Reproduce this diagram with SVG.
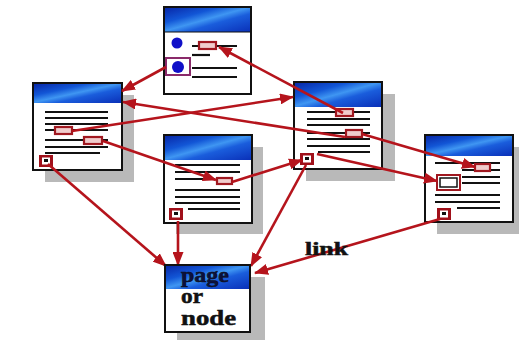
<svg xmlns="http://www.w3.org/2000/svg" width="519" height="340" viewBox="0 0 519 340">
  <defs>
    <linearGradient id="hdr" x1="0" y1="0" x2="1" y2="1">
      <stop offset="0" stop-color="#0828a8"/>
      <stop offset="0.3" stop-color="#1256d6"/>
      <stop offset="0.48" stop-color="#3f96f2"/>
      <stop offset="0.62" stop-color="#1a5ddc"/>
      <stop offset="1" stop-color="#0a30b8"/>
    </linearGradient>
    <marker id="arr" viewBox="0 0 14 11" refX="13" refY="5.5" markerWidth="14" markerHeight="11" markerUnits="userSpaceOnUse" orient="auto">
      <path d="M0,0 L14,5.5 L0,11 z" fill="#b5141c"/>
    </marker>
    <g id="icon">
      <rect x="0" y="0" width="14" height="12" fill="#a0101a"/>
      <rect x="3" y="2.5" width="8" height="7" fill="#fff"/>
      <path d="M5,4 h4 v3 h-4 z" fill="#111"/>
    </g>
  </defs>
  <style>
    .card{fill:#fff;stroke:#111;stroke-width:2}
    .shadow{fill:#b9b9b9}
    .hdr{fill:url(#hdr)}
    .ln{stroke:#111;stroke-width:2.2}
    .lk{fill:#f0cccc;stroke:#a01820;stroke-width:2.2}
    .con{stroke:#b5141c;stroke-width:2.6;fill:none;marker-end:url(#arr)}
    .lbl{font-family:"Liberation Serif","Times New Roman",serif;font-weight:bold;fill:#111;stroke:#111;stroke-width:0.5}
  </style>

  <rect width="519" height="340" fill="#fff"/>

  <!-- top page -->
  <g id="pageA">
    <rect class="card" x="164" y="7" width="87" height="87"/>
    <rect class="hdr" x="165" y="8" width="85" height="24"/>
    <line x1="164" y1="32" x2="251" y2="32" stroke="#111" stroke-width="1"/>
    <circle cx="177" cy="43" r="5.5" fill="#1010c8"/>
    <line class="ln" x1="192" y1="46" x2="237" y2="46"/>
    <rect class="lk" x="199" y="42" width="17" height="7"/>
    <line class="ln" x1="192" y1="55" x2="210" y2="55"/>
    <rect x="166" y="58" width="24" height="17" fill="none" stroke="#8a2a6a" stroke-width="2"/>
    <circle cx="178" cy="67" r="6" fill="#1010c8"/>
    <line class="ln" x1="192" y1="68" x2="237" y2="68"/>
    <line class="ln" x1="192" y1="77" x2="237" y2="77"/>
  </g>

  <!-- left page -->
  <g id="pageB">
    <rect class="shadow" x="45" y="95" width="89" height="87"/>
    <rect class="card" x="33" y="83" width="89" height="87"/>
    <rect class="hdr" x="34" y="84" width="87" height="19"/>
    <line class="ln" x1="45" y1="112" x2="108" y2="112"/>
    <line class="ln" x1="45" y1="118" x2="108" y2="118"/>
    <line class="ln" x1="45" y1="124" x2="108" y2="124"/>
    <line class="ln" x1="45" y1="130" x2="108" y2="130"/>
    <line class="ln" x1="45" y1="140" x2="108" y2="140"/>
    <line class="ln" x1="45" y1="147" x2="108" y2="147"/>
    <line class="ln" x1="45" y1="153" x2="100" y2="153"/>
    <rect class="lk" x="55" y="127" width="17" height="7"/>
    <rect class="lk" x="84" y="137" width="18" height="7"/>
    <use href="#icon" x="39" y="155"/>
  </g>

  <!-- right-hand middle page -->
  <g id="pageC">
    <rect class="shadow" x="306" y="94" width="89" height="87"/>
    <rect class="card" x="294" y="82" width="88" height="87"/>
    <rect class="hdr" x="295" y="83" width="86" height="24"/>
    <line class="ln" x1="307" y1="112" x2="370" y2="112"/>
    <line class="ln" x1="307" y1="119" x2="370" y2="119"/>
    <line class="ln" x1="307" y1="125" x2="370" y2="125"/>
    <line class="ln" x1="307" y1="133" x2="370" y2="133"/>
    <line class="ln" x1="307" y1="139" x2="370" y2="139"/>
    <line class="ln" x1="307" y1="146" x2="370" y2="146"/>
    <line class="ln" x1="318" y1="152" x2="370" y2="152"/>
    <rect class="lk" x="336" y="109" width="17" height="7"/>
    <rect class="lk" x="346" y="130" width="16" height="7"/>
    <use href="#icon" x="300" y="153"/>
  </g>

  <!-- far right page -->
  <g id="pageD">
    <rect class="shadow" x="437" y="147" width="88" height="87"/>
    <rect class="card" x="425" y="135" width="88" height="87"/>
    <rect class="hdr" x="426" y="136" width="86" height="20"/>
    <line class="ln" x1="435" y1="163" x2="500" y2="163"/>
    <line class="ln" x1="462" y1="170" x2="500" y2="170"/>
    <line class="ln" x1="462" y1="177" x2="500" y2="177"/>
    <line class="ln" x1="462" y1="183" x2="500" y2="183"/>
    <line class="ln" x1="435" y1="195" x2="500" y2="195"/>
    <line class="ln" x1="435" y1="202" x2="500" y2="202"/>
    <line class="ln" x1="457" y1="208" x2="500" y2="208"/>
    <rect class="lk" x="475" y="164" width="15" height="7"/>
    <rect x="437" y="175" width="23" height="15" fill="#fff" stroke="#a01820" stroke-width="2"/>
    <rect x="440" y="178" width="17" height="9" fill="none" stroke="#111" stroke-width="1.5"/>
    <use href="#icon" x="437" y="208"/>
  </g>

  <!-- centre page -->
  <g id="pageE">
    <rect class="shadow" x="176" y="147" width="87" height="87"/>
    <rect class="card" x="164" y="135" width="88" height="88"/>
    <rect class="hdr" x="165" y="136" width="86" height="24"/>
    <line class="ln" x1="175" y1="165" x2="240" y2="165"/>
    <line class="ln" x1="175" y1="172" x2="240" y2="172"/>
    <line class="ln" x1="175" y1="179" x2="215" y2="179"/>
    <line class="ln" x1="175" y1="190" x2="240" y2="190"/>
    <line class="ln" x1="175" y1="197" x2="240" y2="197"/>
    <line class="ln" x1="175" y1="203" x2="240" y2="203"/>
    <line class="ln" x1="188" y1="209" x2="240" y2="209"/>
    <rect class="lk" x="217" y="178" width="15" height="6"/>
    <use href="#icon" x="169" y="208"/>
  </g>

  <!-- links between pages -->
  <g id="connectors">
    <line class="con" x1="343" y1="113" x2="219" y2="47"/>
    <line class="con" x1="166" y1="67" x2="122" y2="91"/>
    <line class="con" x1="345" y1="137" x2="123" y2="102"/>
    <line class="con" x1="72" y1="131" x2="293" y2="97"/>
    <line class="con" x1="103" y1="141" x2="216" y2="180"/>
    <line class="con" x1="232" y1="182" x2="302" y2="160"/>
    <line class="con" x1="362" y1="134" x2="475" y2="167"/>
    <line class="con" x1="317" y1="154" x2="437" y2="181"/>
    <line class="con" x1="48" y1="164" x2="166" y2="266"/>
    <line class="con" x1="178" y1="221" x2="178" y2="265"/>
    <line class="con" x1="306" y1="165" x2="251" y2="266"/>
    <line class="con" x1="440" y1="219" x2="255" y2="273"/>
  </g>

  <!-- destination page -->
  <g id="pageNode">
    <rect class="shadow" x="177" y="277" width="88" height="70"/>
    <rect class="card" x="165" y="265" width="85" height="67"/>
    <rect class="hdr" x="166" y="266" width="83" height="23"/>
    <text class="lbl" x="181" y="282" font-size="20" textLength="48" lengthAdjust="spacingAndGlyphs" fill="#0a1040" style="fill:#0a1040">page</text>
    <text class="lbl" x="181" y="303" font-size="20" textLength="22" lengthAdjust="spacingAndGlyphs">or</text>
    <text class="lbl" x="181" y="325" font-size="20" textLength="55" lengthAdjust="spacingAndGlyphs">node</text>
  </g>

  <text class="lbl" x="305" y="255" font-size="18" textLength="43" lengthAdjust="spacingAndGlyphs">link</text>
</svg>
